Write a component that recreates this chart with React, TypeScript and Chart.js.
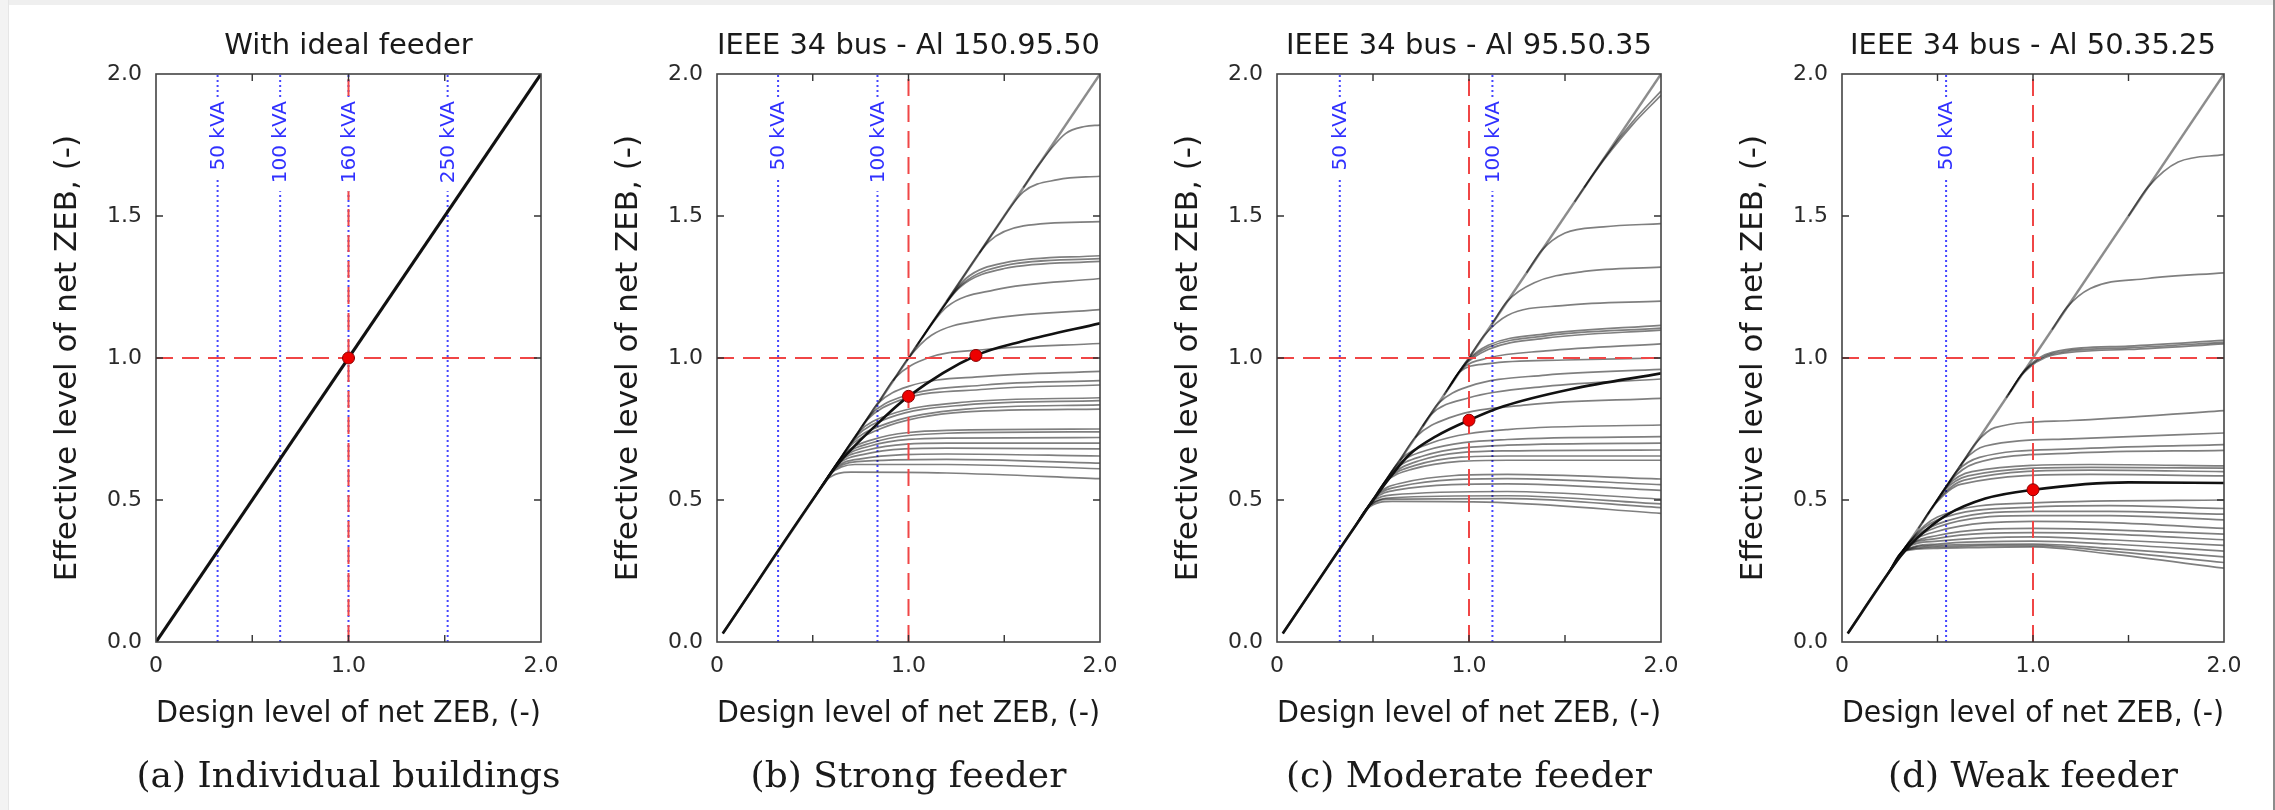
import React, { useEffect, useRef } from 'react';
import { Chart, registerables } from 'chart.js';

Chart.register(...registerables);

type Pt = [number, number];

// ---------- shared axis data ----------
const AXIS_MIN = 0;
const AXIS_MAX = 2;
const X_TICK_VALUES = [0, 0.5, 1, 1.5, 2];
const X_TICK_LABELS = ['0', '', '1.0', '', '2.0'];
const Y_TICK_VALUES = [0, 0.5, 1, 1.5, 2];
const Y_TICK_LABELS = ['0.0', '0.5', '1.0', '1.5', '2.0'];
const MINOR_TICK_VALUES = [0.5, 1, 1.5];
const REF_X = 1.0; // red dashed vertical
const REF_Y = 1.0; // red dashed horizontal
const KVA_LABEL_Y = 1.905;
const X_TITLE = 'Design level of net ZEB, (-)';
const Y_TITLE = 'Effective level of net ZEB, (-)';

// ---------- panel (a) ----------
const A_TITLE = 'With ideal feeder';
const A_CAPTION = '(a) Individual buildings';
const A_HIGHLIGHT: Pt[] = [[0, 0], [2, 2]];
const A_GRAY: Pt[][] = [];
const A_DIAGONAL: Pt[] = [];
const A_POINTS: Pt[] = [[1.0, 1.0]];
const A_KVA_X = [0.32, 0.645, 1.0, 1.515];
const A_KVA_LABELS = ['50 kVA', '100 kVA', '160 kVA', '250 kVA'];

// ---------- panel (b) ----------
const B_TITLE = 'IEEE 34 bus - Al 150.95.50';
const B_CAPTION = '(b) Strong feeder';
const B_DIAGONAL: Pt[] = [[0.03, 0.03], [2, 2]];
const B_HIGHLIGHT: Pt[] = [[0.03, 0.03], [0.55, 0.55], [0.63, 0.625], [0.84, 0.77], [1.0, 0.865], [1.352, 1.009], [1.6, 1.06], [2, 1.122]];
const B_POINTS: Pt[] = [[1.0, 0.865], [1.352, 1.009]];
const B_KVA_X = [0.319, 0.838];
const B_KVA_LABELS = ['50 kVA', '100 kVA'];
const B_GRAY: Pt[][] = [
  [[1.6, 1.6], [1.68, 1.68], [1.82, 1.79], [1.92, 1.815], [2, 1.82]],
  [[1.37, 1.37], [1.45, 1.45], [1.6, 1.585], [1.78, 1.628], [2, 1.64]],
  [[1.2, 1.2], [1.28, 1.28], [1.42, 1.41], [1.6, 1.465], [2, 1.48]],
  [[1.07, 1.07], [1.15, 1.15], [1.3, 1.28], [1.5, 1.335], [2, 1.36]],
  [[1.05, 1.05], [1.13, 1.13], [1.28, 1.26], [1.5, 1.325], [2, 1.35]],
  [[1.04, 1.04], [1.12, 1.12], [1.27, 1.25], [1.5, 1.315], [2, 1.34]],
  [[0.99, 0.99], [1.07, 1.07], [1.2, 1.18], [1.45, 1.24], [2, 1.28]],
  [[0.92, 0.92], [1.0, 1.0], [1.12, 1.08], [1.4, 1.135], [2, 1.17]],
  [[0.85, 0.85], [0.93, 0.93], [1.1, 1.0], [1.4, 1.03], [2, 1.051]],
  [[0.76, 0.76], [0.84, 0.84], [1.0, 0.9], [1.4, 0.935], [2, 0.953]],
  [[0.72, 0.72], [0.8, 0.8], [0.95, 0.86], [1.4, 0.905], [2, 0.92]],
  [[0.7, 0.7], [0.78, 0.78], [0.95, 0.85], [1.4, 0.89], [2, 0.905]],
  [[0.66, 0.66], [0.74, 0.74], [0.9, 0.8], [1.3, 0.845], [2, 0.86]],
  [[0.64, 0.64], [0.72, 0.72], [0.9, 0.79], [1.3, 0.835], [2, 0.85]],
  [[0.62, 0.62], [0.7, 0.7], [0.85, 0.76], [1.3, 0.82], [2, 0.835]],
  [[0.6, 0.6], [0.68, 0.68], [0.85, 0.75], [1.3, 0.81], [2, 0.82]],
  [[0.58, 0.58], [0.66, 0.66], [0.8, 0.71], [1.2, 0.745], [2, 0.75]],
  [[0.57, 0.57], [0.65, 0.65], [0.8, 0.7], [1.2, 0.735], [2, 0.74]],
  [[0.56, 0.56], [0.64, 0.64], [0.8, 0.69], [1.2, 0.718], [2, 0.72]],
  [[0.55, 0.55], [0.63, 0.63], [0.78, 0.675], [1.2, 0.7], [2, 0.7]],
  [[0.54, 0.54], [0.62, 0.62], [0.76, 0.66], [1.2, 0.683], [2, 0.68]],
  [[0.53, 0.53], [0.61, 0.61], [0.75, 0.645], [1.2, 0.662], [2, 0.655]],
  [[0.52, 0.52], [0.6, 0.6], [0.73, 0.635], [1.2, 0.643], [2, 0.63]],
  [[0.51, 0.51], [0.59, 0.59], [0.72, 0.625], [1.2, 0.625], [2, 0.61]],
  [[0.49, 0.49], [0.57, 0.57], [0.7, 0.598], [1.2, 0.595], [2, 0.575]],
];

// ---------- panel (c) ----------
const C_TITLE = 'IEEE 34 bus - Al 95.50.35';
const C_CAPTION = '(c) Moderate feeder';
const C_DIAGONAL: Pt[] = [[0.03, 0.03], [2, 2]];
const C_HIGHLIGHT: Pt[] = [[0.03, 0.03], [0.45, 0.45], [0.55, 0.545], [0.69, 0.66], [0.83, 0.725], [1.0, 0.781], [1.18, 0.83], [1.53, 0.89], [2, 0.946]];
const C_POINTS: Pt[] = [[1.0, 0.781]];
const C_KVA_X = [0.327, 1.122];
const C_KVA_LABELS = ['50 kVA', '100 kVA'];
const C_GRAY: Pt[][] = [
  [[1.6, 1.6], [1.7, 1.7], [1.85, 1.83], [2, 1.94]],
  [[1.55, 1.55], [1.65, 1.65], [1.85, 1.82], [2, 1.925]],
  [[1.3, 1.3], [1.38, 1.38], [1.5, 1.44], [1.7, 1.462], [2, 1.473]],
  [[1.12, 1.12], [1.2, 1.2], [1.34, 1.265], [1.6, 1.305], [2, 1.32]],
  [[1.0, 1.0], [1.08, 1.08], [1.2, 1.15], [1.5, 1.185], [2, 1.2]],
  [[0.91, 0.91], [0.99, 0.99], [1.1, 1.045], [1.4, 1.085], [2, 1.115]],
  [[0.9, 0.9], [0.98, 0.98], [1.1, 1.038], [1.4, 1.078], [2, 1.105]],
  [[0.89, 0.89], [0.97, 0.97], [1.1, 1.03], [1.4, 1.07], [2, 1.098]],
  [[0.88, 0.88], [0.96, 0.96], [1.1, 1.0], [1.4, 1.025], [2, 1.05]],
  [[0.87, 0.87], [0.95, 0.95], [1.1, 0.98], [1.5, 0.993], [2, 1.0]],
  [[0.76, 0.76], [0.84, 0.84], [1.0, 0.9], [1.4, 0.94], [2, 0.96]],
  [[0.72, 0.72], [0.8, 0.8], [1.0, 0.86], [1.4, 0.9], [2, 0.926]],
  [[0.64, 0.64], [0.72, 0.72], [0.9, 0.79], [1.3, 0.835], [2, 0.858]],
  [[0.56, 0.56], [0.64, 0.64], [0.8, 0.7], [1.2, 0.748], [2, 0.764]],
  [[0.54, 0.54], [0.62, 0.62], [0.78, 0.675], [1.2, 0.713], [2, 0.723]],
  [[0.52, 0.52], [0.6, 0.6], [0.76, 0.655], [1.2, 0.693], [2, 0.7]],
  [[0.5, 0.5], [0.58, 0.58], [0.74, 0.638], [1.2, 0.673], [2, 0.676]],
  [[0.49, 0.49], [0.57, 0.57], [0.72, 0.622], [1.2, 0.655], [2, 0.655]],
  [[0.48, 0.48], [0.56, 0.56], [0.7, 0.608], [1.2, 0.64], [2, 0.64]],
  [[0.44, 0.44], [0.52, 0.52], [0.65, 0.56], [1.2, 0.59], [2, 0.574]],
  [[0.43, 0.43], [0.51, 0.51], [0.64, 0.548], [1.2, 0.575], [2, 0.554]],
  [[0.42, 0.42], [0.5, 0.5], [0.62, 0.535], [1.2, 0.557], [2, 0.534]],
  [[0.41, 0.41], [0.49, 0.49], [0.6, 0.518], [1.2, 0.53], [2, 0.503]],
  [[0.4, 0.4], [0.48, 0.48], [0.6, 0.508], [1.2, 0.515], [2, 0.486]],
  [[0.4, 0.4], [0.48, 0.48], [0.6, 0.503], [1.2, 0.505], [2, 0.473]],
  [[0.39, 0.39], [0.47, 0.47], [0.6, 0.495], [1.2, 0.49], [2, 0.453]],
];

// ---------- panel (d) ----------
const D_TITLE = 'IEEE 34 bus - Al 50.35.25';
const D_CAPTION = '(d) Weak feeder';
const D_DIAGONAL: Pt[] = [[0.03, 0.03], [2, 2]];
const D_HIGHLIGHT: Pt[] = [[0.03, 0.03], [0.24, 0.24], [0.31, 0.305], [0.4, 0.37], [0.545, 0.446], [0.75, 0.505], [1.0, 0.536], [1.5, 0.562], [2, 0.56]];
const D_POINTS: Pt[] = [[1.0, 0.536]];
const D_KVA_X = [0.545];
const D_KVA_LABELS = ['50 kVA'];
const D_GRAY: Pt[][] = [
  [[1.5, 1.5], [1.6, 1.6], [1.76, 1.69], [2, 1.716]],
  [[1.1, 1.1], [1.18, 1.18], [1.3, 1.245], [1.6, 1.28], [2, 1.3]],
  [[0.88, 0.88], [0.96, 0.96], [1.1, 1.02], [1.5, 1.042], [2, 1.062]],
  [[0.87, 0.87], [0.95, 0.95], [1.1, 1.015], [1.5, 1.036], [2, 1.055]],
  [[0.86, 0.86], [0.94, 0.94], [1.1, 1.01], [1.5, 1.03], [2, 1.05]],
  [[0.62, 0.62], [0.7, 0.7], [0.8, 0.755], [1.2, 0.78], [2, 0.815]],
  [[0.56, 0.56], [0.64, 0.64], [0.75, 0.69], [1.2, 0.715], [2, 0.736]],
  [[0.52, 0.52], [0.6, 0.6], [0.72, 0.65], [1.2, 0.68], [2, 0.695]],
  [[0.49, 0.49], [0.57, 0.57], [0.7, 0.63], [1.2, 0.665], [2, 0.675]],
  [[0.47, 0.47], [0.55, 0.55], [0.68, 0.6], [1.3, 0.625], [2, 0.62]],
  [[0.45, 0.45], [0.53, 0.53], [0.66, 0.585], [1.3, 0.615], [2, 0.612]],
  [[0.42, 0.42], [0.5, 0.5], [0.64, 0.57], [1.3, 0.605], [2, 0.6]],
  [[0.4, 0.4], [0.48, 0.48], [0.62, 0.555], [1.3, 0.59], [2, 0.585]],
  [[0.28, 0.28], [0.36, 0.36], [0.5, 0.44], [1.0, 0.49], [2, 0.5]],
  [[0.27, 0.27], [0.35, 0.35], [0.5, 0.43], [1.0, 0.475], [1.4, 0.48], [2, 0.47]],
  [[0.27, 0.27], [0.35, 0.35], [0.5, 0.415], [1.0, 0.46], [1.4, 0.46], [2, 0.45]],
  [[0.26, 0.26], [0.34, 0.34], [0.5, 0.405], [1.0, 0.445], [1.4, 0.445], [2, 0.43]],
  [[0.26, 0.26], [0.34, 0.34], [0.5, 0.39], [1.0, 0.425], [1.4, 0.42], [2, 0.4]],
  [[0.25, 0.25], [0.33, 0.33], [0.5, 0.375], [1.0, 0.4], [1.4, 0.395], [2, 0.38]],
  [[0.25, 0.25], [0.33, 0.33], [0.5, 0.365], [1.0, 0.385], [1.4, 0.38], [2, 0.36]],
  [[0.25, 0.25], [0.33, 0.33], [0.5, 0.355], [1.0, 0.37], [1.4, 0.36], [2, 0.34]],
  [[0.24, 0.24], [0.32, 0.32], [0.5, 0.345], [1.0, 0.355], [1.4, 0.345], [2, 0.32]],
  [[0.24, 0.24], [0.32, 0.32], [0.5, 0.34], [1.0, 0.345], [1.4, 0.33], [2, 0.3]],
  [[0.24, 0.24], [0.32, 0.32], [0.5, 0.335], [1.0, 0.34], [1.4, 0.32], [2, 0.28]],
  [[0.24, 0.24], [0.32, 0.32], [0.5, 0.33], [1.0, 0.335], [1.4, 0.31], [2, 0.26]],
];

// ---------- layout / style ----------
const FONT = "'DejaVu Sans', Verdana, sans-serif";
const SERIF = "'DejaVu Serif', 'Liberation Serif', serif";
const CANVAS_H = 810;
const Y_BOX = 120; // space left of plot for y labels and title
const RIGHT_PAD = 30;

type PanelCfg = {
  plotLeft: number;
  plotRight: number;
  title: string;
  caption: string;
  highlight: Pt[];
  highlightWidth: number;
  gray: Pt[][];
  diagonal: Pt[];
  points: Pt[];
  kvaX: number[];
  kvaLabels: string[];
};

const PANELS: PanelCfg[] = [
  { plotLeft: 156, plotRight: 541, title: A_TITLE, caption: A_CAPTION, highlight: A_HIGHLIGHT, highlightWidth: 3.2, gray: A_GRAY, diagonal: A_DIAGONAL, points: A_POINTS, kvaX: A_KVA_X, kvaLabels: A_KVA_LABELS },
  { plotLeft: 717, plotRight: 1100, title: B_TITLE, caption: B_CAPTION, highlight: B_HIGHLIGHT, highlightWidth: 2.6, gray: B_GRAY, diagonal: B_DIAGONAL, points: B_POINTS, kvaX: B_KVA_X, kvaLabels: B_KVA_LABELS },
  { plotLeft: 1277, plotRight: 1661, title: C_TITLE, caption: C_CAPTION, highlight: C_HIGHLIGHT, highlightWidth: 2.6, gray: C_GRAY, diagonal: C_DIAGONAL, points: C_POINTS, kvaX: C_KVA_X, kvaLabels: C_KVA_LABELS },
  { plotLeft: 1842, plotRight: 2224, title: D_TITLE, caption: D_CAPTION, highlight: D_HIGHLIGHT, highlightWidth: 2.6, gray: D_GRAY, diagonal: D_DIAGONAL, points: D_POINTS, kvaX: D_KVA_X, kvaLabels: D_KVA_LABELS },
];

const toXY = (pts: Pt[]) => pts.map(([x, y]) => ({ x, y }));

function lineDs(pts: Pt[], color: string, width: number, dash: number[] = [], mono = true) {
  return {
    data: toXY(pts),
    showLine: true,
    borderColor: color,
    borderWidth: width,
    borderDash: dash,
    pointRadius: 0,
    pointHoverRadius: 0,
    cubicInterpolationMode: mono ? 'monotone' : 'default',
    tension: 0,
    fill: false,
  } as any;
}

function buildDatasets(cfg: PanelCfg) {
  const ds: any[] = [];
  // first in array = drawn last (on top)
  ds.push({
    data: toXY(cfg.points),
    showLine: false,
    pointRadius: 6,
    pointHoverRadius: 6,
    pointBackgroundColor: '#ee0000',
    pointBorderColor: '#8a0000',
    pointBorderWidth: 1,
  });
  ds.push(lineDs([[REF_X, AXIS_MIN], [REF_X, AXIS_MAX]], '#f04646', 2, [17, 9], false));
  ds.push(lineDs([[AXIS_MIN, REF_Y], [AXIS_MAX, REF_Y]], '#f04646', 2, [17, 9], false));
  ds.push(lineDs(cfg.highlight, '#111111', cfg.highlightWidth));
  cfg.gray.forEach((c) => ds.push(lineDs(c, 'rgba(0,0,0,0.5)', 1.7)));
  if (cfg.diagonal.length) ds.push(lineDs(cfg.diagonal, 'rgba(0,0,0,0.45)', 2.4, [], false));
  cfg.kvaX.forEach((xv) => ds.push(lineDs([[xv, AXIS_MIN], [xv, AXIS_MAX]], '#4646ff', 2, [2, 3], false)));
  return ds;
}

const decorPlugin = {
  id: 'decor',
  afterDatasetsDraw(chart: any, _args: any, opts: any) {
    const { ctx, chartArea: a, scales } = chart;
    const xs = scales.x;
    const ys = scales.y;
    ctx.save();
    ctx.font = `20px ${FONT}`;
    (opts.kvaX || []).forEach((xv: number, i: number) => {
      const txt = opts.kvaLabels[i];
      const px = xs.getPixelForValue(xv);
      const py = ys.getPixelForValue(KVA_LABEL_Y);
      const w = ctx.measureText(txt).width;
      ctx.save();
      ctx.translate(px, py);
      ctx.rotate(-Math.PI / 2);
      ctx.fillStyle = '#ffffff';
      ctx.fillRect(-w - 8, -11, w + 11, 22);
      ctx.fillStyle = '#3030ff';
      ctx.textAlign = 'right';
      ctx.textBaseline = 'middle';
      ctx.fillText(txt, 0, 1);
      ctx.restore();
    });
    ctx.strokeStyle = '#444';
    ctx.lineWidth = 1.6;
    ctx.strokeRect(a.left, a.top, a.right - a.left, a.bottom - a.top);
    ctx.strokeStyle = '#333';
    ctx.lineWidth = 1.4;
    ctx.beginPath();
    MINOR_TICK_VALUES.forEach((v) => {
      const px = xs.getPixelForValue(v);
      const py = ys.getPixelForValue(v);
      ctx.moveTo(px, a.bottom); ctx.lineTo(px, a.bottom - 7);
      ctx.moveTo(px, a.top); ctx.lineTo(px, a.top + 7);
      ctx.moveTo(a.left, py); ctx.lineTo(a.left + 7, py);
      ctx.moveTo(a.right, py); ctx.lineTo(a.right - 7, py);
    });
    ctx.stroke();
    ctx.restore();
  },
};

function Panel({ cfg }: { cfg: PanelCfg }) {
  const ref = useRef<HTMLCanvasElement>(null);
  const plotW = cfg.plotRight - cfg.plotLeft;
  const w = Y_BOX + plotW + RIGHT_PAD;
  const left = cfg.plotLeft - Y_BOX;

  useEffect(() => {
    const chart = new Chart(ref.current as HTMLCanvasElement, {
      type: 'scatter',
      data: { datasets: buildDatasets(cfg) },
      options: {
        responsive: false,
        animation: false,
        devicePixelRatio: 1,
        layout: { padding: { left: 0, right: RIGHT_PAD, top: 0, bottom: 0 } },
        plugins: {
          legend: { display: false },
          tooltip: { enabled: false },
          title: {
            display: true,
            text: cfg.title,
            fullSize: false,
            color: '#1a1a1a',
            font: { family: FONT, size: 29, weight: 'normal' },
            padding: { top: 29, bottom: 10.2 },
          },
          decor: { kvaX: cfg.kvaX, kvaLabels: cfg.kvaLabels },
        } as any,
        scales: {
          x: {
            type: 'linear',
            min: AXIS_MIN,
            max: AXIS_MAX,
            grid: { display: false, drawTicks: false },
            border: { display: false },
            afterBuildTicks: (s: any) => { s.ticks = X_TICK_VALUES.map((v) => ({ value: v })); },
            afterFit: (s: any) => { s.height = CANVAS_H - 642; },
            ticks: {
              autoSkip: false,
              maxRotation: 0,
              padding: 11,
              color: '#2a2a2a',
              font: { family: FONT, size: 22 },
              callback: (_v: any, i: number) => X_TICK_LABELS[i],
            },
            title: {
              display: true,
              text: X_TITLE,
              color: '#1a1a1a',
              font: { family: FONT, size: 31 },
              padding: { top: 0, bottom: 77 },
            },
          },
          y: {
            type: 'linear',
            min: AXIS_MIN,
            max: AXIS_MAX,
            grid: { display: false, drawTicks: false },
            border: { display: false },
            afterBuildTicks: (s: any) => { s.ticks = Y_TICK_VALUES.map((v) => ({ value: v })); },
            afterFit: (s: any) => { s.width = Y_BOX; },
            ticks: {
              autoSkip: false,
              padding: 14,
              color: '#2a2a2a',
              font: { family: FONT, size: 22 },
              callback: (_v: any, i: number) => Y_TICK_LABELS[i],
            },
            title: {
              display: true,
              text: Y_TITLE,
              color: '#1a1a1a',
              font: { family: FONT, size: 31 },
              padding: { top: 13, bottom: 0 },
            },
          },
        } as any,
      },
      plugins: [decorPlugin as any],
    });
    return () => chart.destroy();
  }, []);

  return (
    <canvas
      ref={ref}
      width={w}
      height={CANVAS_H}
      style={{ position: 'absolute', left, top: 0, width: w, height: CANVAS_H }}
    />
  );
}

export default function App() {
  return (
    <div style={{ position: 'absolute', left: 0, top: 0, width: 2275, height: 810, background: '#fff', overflow: 'hidden' }}>
      <div style={{ position: 'absolute', left: 0, top: 0, width: 2275, height: 5, background: '#efefef' }} />
      <div style={{ position: 'absolute', left: 0, top: 0, width: 8, height: 810, background: '#f3f3f3', borderRight: '1px solid #e6e6e6' }} />
      <div style={{ position: 'absolute', left: 2273, top: 0, width: 2, height: 810, background: '#8c8c8c' }} />
      {PANELS.map((p, i) => (
        <Panel key={i} cfg={p} />
      ))}
      {PANELS.map((p, i) => {
        const cx = (p.plotLeft + p.plotRight) / 2;
        return (
          <div
            key={'c' + i}
            style={{
              position: 'absolute',
              left: cx - 300,
              width: 600,
              top: 753,
              height: 44,
              lineHeight: '44px',
              textAlign: 'center',
              fontFamily: SERIF,
              fontSize: 36,
              color: '#1a1a1a',
              whiteSpace: 'nowrap',
            }}
          >
            {p.caption}
          </div>
        );
      })}
    </div>
  );
}
